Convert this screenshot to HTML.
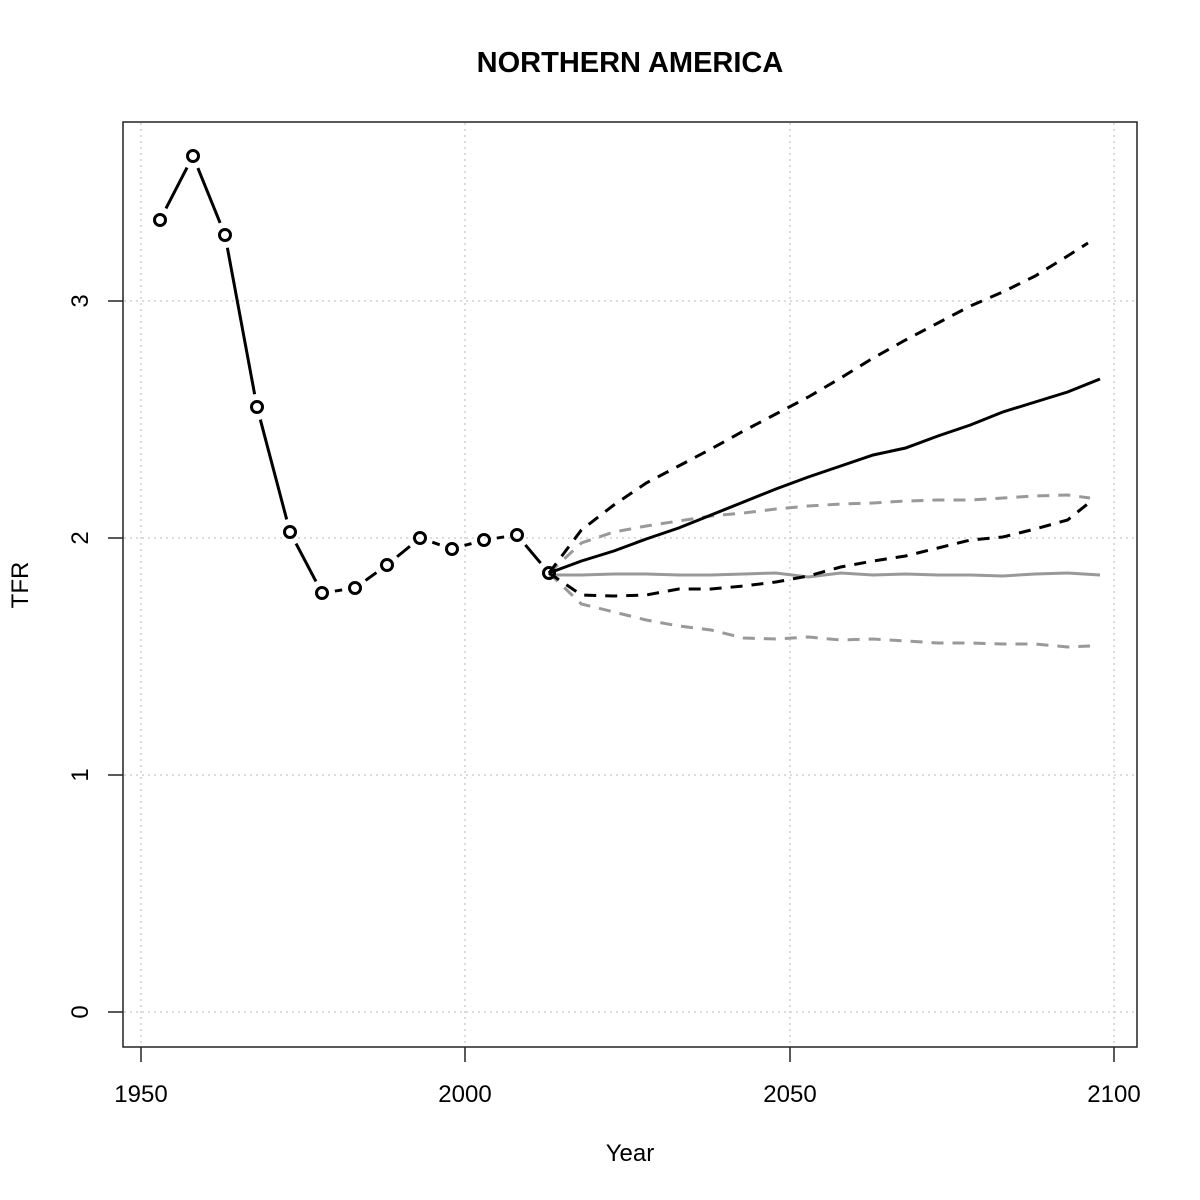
<!DOCTYPE html>
<html><head><meta charset="utf-8"><style>
html,body{margin:0;padding:0;background:#fff;}
svg{display:block;font-family:"Liberation Sans",Arial,sans-serif;}
</style></head><body>
<svg id="s" width="1200" height="1200" xmlns="http://www.w3.org/2000/svg">
<rect width="1200" height="1200" fill="#fff"/>
<text x="630" y="72" text-anchor="middle" font-size="29" font-weight="bold">NORTHERN AMERICA</text>
<g stroke="#d0d0d0" stroke-width="1.5" stroke-dasharray="2,4">
<line x1="141" y1="123" x2="141" y2="1046"/><line x1="465" y1="123" x2="465" y2="1046"/>
<line x1="790" y1="123" x2="790" y2="1046"/><line x1="1114" y1="123" x2="1114" y2="1046"/>
<line x1="124" y1="1012" x2="1136" y2="1012"/><line x1="124" y1="775" x2="1136" y2="775"/>
<line x1="124" y1="538" x2="1136" y2="538"/><line x1="124" y1="301" x2="1136" y2="301"/>
</g>
<rect x="123" y="122" width="1014" height="925" fill="none" stroke="#222" stroke-width="1.5"/>
<g stroke="#222" stroke-width="1.5">
<line x1="141" y1="1047" x2="141" y2="1062"/><line x1="465" y1="1047" x2="465" y2="1062"/>
<line x1="790" y1="1047" x2="790" y2="1062"/><line x1="1114" y1="1047" x2="1114" y2="1062"/>
<line x1="108" y1="1012" x2="123" y2="1012"/><line x1="108" y1="775" x2="123" y2="775"/>
<line x1="108" y1="538" x2="123" y2="538"/><line x1="108" y1="301" x2="123" y2="301"/>
</g>
<g font-size="24" text-anchor="middle">
<text x="141" y="1102">1950</text><text x="465" y="1102">2000</text>
<text x="790" y="1102">2050</text><text x="1114" y="1102">2100</text>
<text x="630" y="1161">Year</text>
<text transform="translate(88,1012) rotate(-90)">0</text>
<text transform="translate(88,775) rotate(-90)">1</text>
<text transform="translate(88,538) rotate(-90)">2</text>
<text transform="translate(88,301) rotate(-90)">3</text>
<text transform="translate(28,585) rotate(-90)">TFR</text>
</g>
<g id="g"></g>
</svg>
<script>
var g=document.getElementById('g'),ns='http://www.w3.org/2000/svg';
function X(i){return 549+i*(1100-549)/17;}
function poly(ys,col,dash,xe){var p=ys.map(function(y,i){var x=X(i);if(xe&&i==ys.length-1)x=xe;return x+','+y}).join(' ');
var e=document.createElementNS(ns,'polyline');e.setAttribute('points',p);e.setAttribute('fill','none');
e.setAttribute('stroke',col);e.setAttribute('stroke-width','3');if(dash)e.setAttribute('stroke-dasharray','12,9');g.appendChild(e);}
poly([573,604,612,620,626,630,638,639,637,640,639,641,643,643,644,644,647,646],'#999',1,1090);
poly([573,543,532,526,521,516,513,509,506,504,503,501,500,500,498,496,495,498],'#999',1,1090);
poly([575,575,574,574,575,575,574,573,577,573,575,574,575,575,576,574,573,575],'#999',0);
poly([573,595,596,595,589,589,586,582,576,567,561,556,548,540,537,529,520,502],'#000',1,1090);
poly([573,530,505,483,466,449,431,414,397,378,358,340,323,306,292,276,256,243],'#000',1,1088);
poly([573,561,551,539,528,515,502,489,477,466,455,448,436,425,412,402,392,379],'#000',0);
var hx=[160,193,225,257,290,322,355,387,420,452,484,517,549],hy=[220,156,235,407,532,593,588,565,538,549,540,535,573];
for(var i=0;i<hx.length-1;i++){var dx=hx[i+1]-hx[i],dy=hy[i+1]-hy[i],L=Math.sqrt(dx*dx+dy*dy),u=dx/L,v=dy/L,gp=13;
if(L>2*gp){var e=document.createElementNS(ns,'line');e.setAttribute('x1',hx[i]+u*gp);e.setAttribute('y1',hy[i]+v*gp);
e.setAttribute('x2',hx[i+1]-u*gp);e.setAttribute('y2',hy[i+1]-v*gp);e.setAttribute('stroke','#000');e.setAttribute('stroke-width','3');g.appendChild(e);}}
for(var i=0;i<hx.length;i++){var c=document.createElementNS(ns,'circle');c.setAttribute('cx',hx[i]);c.setAttribute('cy',hy[i]);
c.setAttribute('r','5.5');c.setAttribute('fill','none');c.setAttribute('stroke','#000');c.setAttribute('stroke-width','3');g.appendChild(c);}
</script>
</body></html>
